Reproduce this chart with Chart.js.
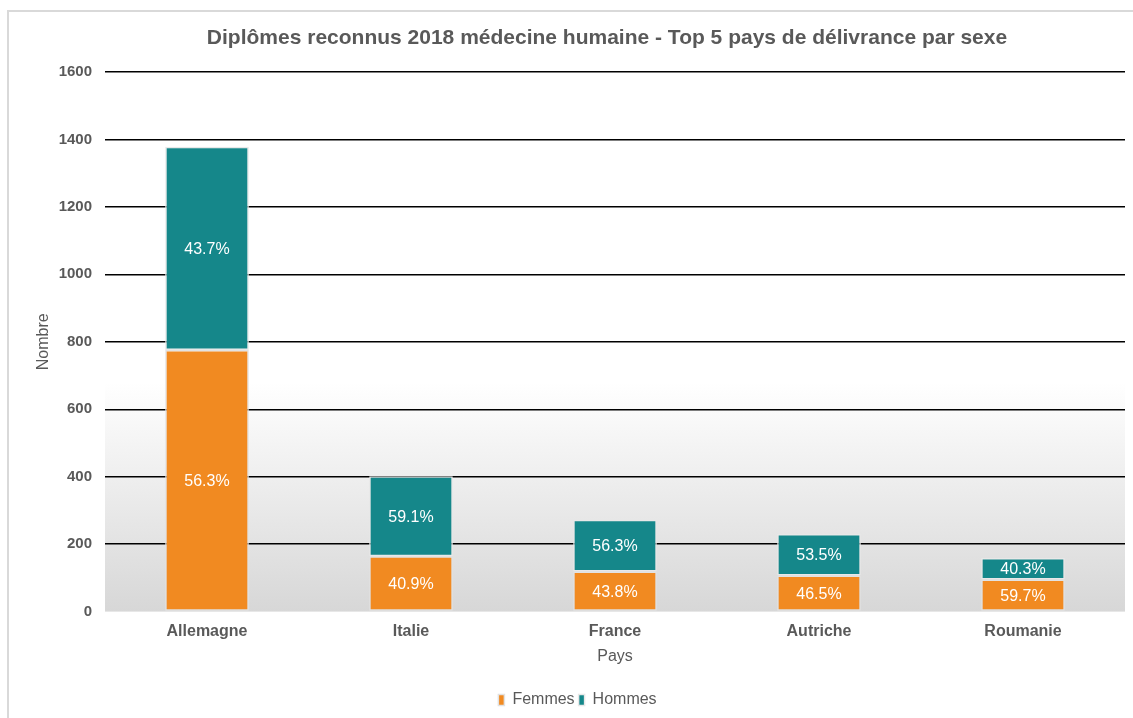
<!DOCTYPE html>
<html>
<head>
<meta charset="utf-8">
<script src="https://cdn.jsdelivr.net/npm/chart.js@4.4.1/dist/chart.umd.min.js"></script>
<style>
  html, body { margin:0; padding:0; background:#fff; }
  #frame { position:absolute; left:7px; top:10px; width:1140px; height:720px; border-left:2px solid #d9d9d9; border-top:2px solid #d9d9d9; }
  #wrap { position:absolute; left:0; top:0; width:1133px; height:718px; }
</style>
</head>
<body>
<div id="frame"></div>
<div id="wrap"><canvas id="chart" width="1133" height="718"></canvas></div>
<script>
// ===== Data =====
const pays = ["Allemagne", "Italie", "France", "Autriche", "Roumanie"];
const femmes = [776, 164, 119, 107, 95];
const hommes = [602, 237, 153, 123, 64];
const yTicks = [0, 200, 400, 600, 800, 1000, 1200, 1400, 1600];
const titre = "Diplômes reconnus 2018 médecine humaine - Top 5 pays de délivrance par sexe";

const grey = "#595959";
const font = "'Liberation Sans', Arial, sans-serif";

// ===== Plugins =====
const bgPlugin = {
  id: "bg",
  beforeDraw(chart){
    const { ctx, chartArea: a } = chart;
    const g = ctx.createLinearGradient(0, a.top, 0, a.bottom);
    g.addColorStop(0, "#ffffff");
    g.addColorStop(0.575, "#ffffff");
    g.addColorStop(1, "#d7d7d7");
    ctx.save();
    ctx.fillStyle = g;
    ctx.fillRect(a.left, a.top, a.right - a.left, a.bottom - a.top);
    ctx.restore();
  }
};

const titlePlugin = {
  id: "titre",
  afterDraw(chart){
    const { ctx, chartArea: a } = chart;
    ctx.save();
    ctx.font = "bold 21px " + font;
    ctx.fillStyle = grey;
    ctx.textAlign = "center";
    ctx.textBaseline = "middle";
    ctx.fillText(titre, (a.left + a.right) / 2 - 8, 38);
    ctx.restore();
  }
};

const pctPlugin = {
  id: "pct",
  afterDatasetsDraw(chart){
    const { ctx } = chart;
    ctx.save();
    ctx.font = "16px " + font;
    ctx.fillStyle = "#ffffff";
    ctx.textAlign = "center";
    ctx.textBaseline = "middle";
    chart.data.datasets.forEach((ds, di) => {
      chart.getDatasetMeta(di).data.forEach((bar, i) => {
        const total = femmes[i] + hommes[i];
        const txt = (ds.data[i] / total * 100).toFixed(1) + "%";
        ctx.fillText(txt, bar.x, (bar.y + bar.base) / 2 + 1);
      });
    });
    ctx.restore();
  }
};

// ===== Chart =====
new Chart(document.getElementById("chart"), {
  type: "bar",
  data: {
    labels: pays,
    datasets: [
      { label: "Femmes", data: femmes, backgroundColor: "#f18a21", borderColor: "#e2e2e2", borderWidth: 1.5, borderSkipped: false },
      { label: "Hommes", data: hommes, backgroundColor: "#15878a", borderColor: "#e8e8e8", borderWidth: 1.5, borderSkipped: false }
    ]
  },
  options: {
    responsive: false,
    animation: false,
    layout: { padding: { top: 72, right: 8, left: 30, bottom: 0 } },
    datasets: { bar: { barPercentage: 0.41, categoryPercentage: 1 } },
    plugins: {
      title: { display: false },
      tooltip: { enabled: false },
      legend: {
        position: "bottom",
        labels: { boxWidth: 6, boxHeight: 11, padding: 4, color: grey, font: { family: font, size: 16 } }
      }
    },
    scales: {
      x: {
        stacked: true,
        grid: { display: false },
        border: { display: false },
        ticks: { color: grey, font: { family: font, size: 16, weight: "bold" }, padding: 2 },
        title: { display: true, text: "Pays", color: grey, font: { family: font, size: 16 }, padding: { top: 4, bottom: 22 } }
      },
      y: {
        stacked: true,
        min: 0, max: 1600,
        afterBuildTicks(s){ s.ticks = yTicks.map(v => ({ value: v })); },
        afterFit(s){ s.width = 75; },
        grid: { color: ctx => ctx.tick && ctx.tick.value === 0 ? "rgba(0,0,0,0)" : "#000000", lineWidth: 1.5, drawTicks: false },
        border: { display: false },
        ticks: { color: grey, font: { family: font, size: 15, weight: "bold" }, padding: 13, callback: v => String(v) },
        title: { display: true, text: "Nombre", color: grey, font: { family: font, size: 16 }, padding: { bottom: 10 } }
      }
    }
  },
  plugins: [bgPlugin, titlePlugin, pctPlugin]
});
</script>
</body>
</html>
